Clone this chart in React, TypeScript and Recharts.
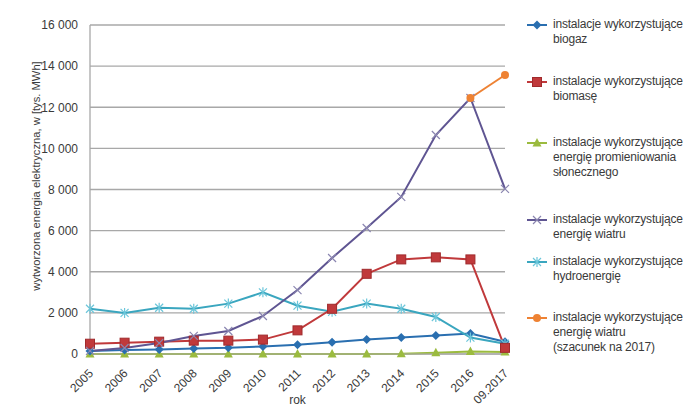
import React from "react";
import { CartesianGrid, Line, LineChart, XAxis, YAxis } from "recharts";

const years = ["2005", "2006", "2007", "2008", "2009", "2010", "2011", "2012", "2013", "2014", "2015", "2016", "09.2017"];
const biogaz = [150, 200, 220, 270, 300, 370, 450, 570, 700, 800, 900, 1000, 600];
const biomasa = [500, 550, 600, 650, 650, 700, 1150, 2200, 3900, 4600, 4700, 4600, 300];
const slonce = [1, 1, 1, 1, 1, 1, 1, 1, 2, 7, 57, 124, 100];
const wiatr = [150, 290, 530, 880, 1120, 1850, 3110, 4670, 6130, 7640, 10650, 12450, 8030];
const hydro = [2200, 2000, 2250, 2200, 2450, 3000, 2350, 2050, 2450, 2200, 1800, 800, 500];
const wiatrPrognoza = [null, null, null, null, null, null, null, null, null, null, null, 12450, 13570];
const yTicks = [0, 2000, 4000, 6000, 8000, 10000, 12000, 14000, 16000];

const data = years.map((year, i) => ({
  year,
  biogaz: biogaz[i],
  biomasa: biomasa[i],
  slonce: slonce[i],
  wiatr: wiatr[i],
  hydro: hydro[i],
  prognoza: wiatrPrognoza[i],
}));

const FONT = "'Liberation Sans', Arial, sans-serif";
const TEXT = "#3a3a3a";

const colors = {
  biogaz: "#2a6fb0",
  biomasa: "#c0393b",
  slonce: "#9bbb3f",
  wiatr: "#5f5592",
  hydro: "#3aa6bf",
  prognoza: "#ee8233",
};

type Shape = "diamond" | "square" | "triangle" | "x" | "star" | "circle";

function Marker({ cx, cy, shape, color }: { cx: number; cy: number; shape: Shape; color: string }) {
  if (cx == null || cy == null || isNaN(cx) || isNaN(cy)) return null;
  switch (shape) {
    case "diamond":
      return <path d={`M${cx},${cy - 4.5}L${cx + 4.5},${cy}L${cx},${cy + 4.5}L${cx - 4.5},${cy}Z`} fill={color} />;
    case "square":
      return <rect x={cx - 4.5} y={cy - 4.5} width={9} height={9} fill={color} stroke="#a02a2c" strokeWidth={1} />;
    case "triangle":
      return <path d={`M${cx},${cy - 5}L${cx + 4.5},${cy + 3.5}L${cx - 4.5},${cy + 3.5}Z`} fill={color} />;
    case "x":
      return (
        <path d={`M${cx - 4},${cy - 4}L${cx + 4},${cy + 4}M${cx - 4},${cy + 4}L${cx + 4},${cy - 4}`} stroke="#8a85b0" strokeWidth={1.2} />
      );
    case "star":
      return (
        <path
          d={`M${cx - 4},${cy - 4}L${cx + 4},${cy + 4}M${cx - 4},${cy + 4}L${cx + 4},${cy - 4}M${cx},${cy - 5}L${cx},${cy + 5}`}
          stroke="#6cc6da"
          strokeWidth={1.2}
        />
      );
    default:
      return <circle cx={cx} cy={cy} r={4} fill={color} />;
  }
}

const dotFor = (shape: Shape, color: string) => (props: any) => (
  <Marker key={`${shape}-${props.index}`} cx={props.cx} cy={props.value == null ? NaN : props.cy} shape={shape} color={color} />
);

const formatTick = (v: number) => (v >= 1000 ? `${Math.floor(v / 1000)} ${String(v % 1000).padStart(3, "0")}` : String(v));

function XTick({ x, y, payload }: any) {
  return (
    <text
      x={x + 4}
      y={y + 12}
      transform={`rotate(-45, ${x + 4}, ${y + 12})`}
      textAnchor="end"
      fontSize={12}
      fontFamily={FONT}
      fill={TEXT}
    >
      {payload.value}
    </text>
  );
}

const YLabel = () => (
  <text
    x={40}
    y={176}
    transform="rotate(-90, 40, 176)"
    textAnchor="middle"
    fontSize={11.2}
    fontFamily={FONT}
    fill={TEXT}
  >
    wytworzona energia elektryczna, w [tys. MWh]
  </text>
);

const legendItems: { key: keyof typeof colors; shape: Shape; lines: string[]; top: number }[] = [
  { key: "biogaz", shape: "diamond", lines: ["instalacje wykorzystujące", "biogaz"], top: 25 },
  { key: "biomasa", shape: "square", lines: ["instalacje wykorzystujące", "biomasę"], top: 82 },
  { key: "slonce", shape: "triangle", lines: ["instalacje wykorzystujące", "energię promieniowania", "słonecznego"], top: 143 },
  { key: "wiatr", shape: "x", lines: ["instalacje wykorzystujące", "energię wiatru"], top: 220 },
  { key: "hydro", shape: "star", lines: ["instalacje wykorzystujące", "hydroenergię"], top: 262 },
  { key: "prognoza", shape: "circle", lines: ["instalacje wykorzystujące", "energię wiatru", "(szacunek na 2017)"], top: 318 },
];

function SideLegend() {
  return (
    <>
      {legendItems.map((item) => (
        <div
          key={item.key}
          style={{
            position: "absolute",
            left: 525,
            top: item.top - 8,
            display: "flex",
            fontFamily: FONT,
            fontSize: 12,
            letterSpacing: -0.2,
            lineHeight: "15px",
            color: TEXT,
          }}
        >
          <svg width={24} height={16} style={{ flex: "none" }}>
            <line x1={2} y1={8} x2={22} y2={8} stroke={colors[item.key]} strokeWidth={2} />
            <Marker cx={12} cy={8} shape={item.shape} color={colors[item.key]} />
          </svg>
          <div style={{ marginLeft: 4 }}>
            {item.lines.map((l) => (
              <div key={l}>{l}</div>
            ))}
          </div>
        </div>
      ))}
    </>
  );
}

export default function App() {
  return (
    <div style={{ position: "absolute", left: 0, top: 0, width: 700, height: 418, background: "#fff" }}>
      <LineChart width={700} height={418} data={data} margin={{ top: 25, right: 195, left: 0, bottom: 0 }}>
        <CartesianGrid vertical={false} stroke="#a8a8a8" strokeWidth={1.3} />
        <XAxis
          dataKey="year"
          height={64}
          tick={<XTick />}
          tickLine={false}
          axisLine={{ stroke: "#a8a8a8" }}
          interval={0}
          label={{ value: "rok", position: "insideBottom", offset: 14, fontSize: 12, fontFamily: FONT, fill: TEXT }}
        />
        <YAxis
          width={90}
          domain={[0, 16000]}
          ticks={yTicks}
          tickFormatter={formatTick}
          tick={{ fontSize: 12, fontFamily: FONT, fill: TEXT }}
          tickLine={false}
          tickMargin={6}
          axisLine={{ stroke: "#a8a8a8", strokeWidth: 1.3 }}
          label={{ content: YLabel }}
        />
        <Line dataKey="slonce" stroke={colors.slonce} strokeWidth={2} dot={dotFor("triangle", colors.slonce)} isAnimationActive={false} />
        <Line dataKey="biogaz" stroke={colors.biogaz} strokeWidth={2} dot={dotFor("diamond", colors.biogaz)} isAnimationActive={false} />
        <Line dataKey="hydro" stroke={colors.hydro} strokeWidth={2} dot={dotFor("star", colors.hydro)} isAnimationActive={false} />
        <Line dataKey="biomasa" stroke={colors.biomasa} strokeWidth={2} dot={dotFor("square", colors.biomasa)} isAnimationActive={false} />
        <Line dataKey="wiatr" stroke={colors.wiatr} strokeWidth={2} dot={dotFor("x", colors.wiatr)} isAnimationActive={false} />
        <Line dataKey="prognoza" stroke={colors.prognoza} strokeWidth={2} dot={dotFor("circle", colors.prognoza)} isAnimationActive={false} />
      </LineChart>
      <SideLegend />
    </div>
  );
}
